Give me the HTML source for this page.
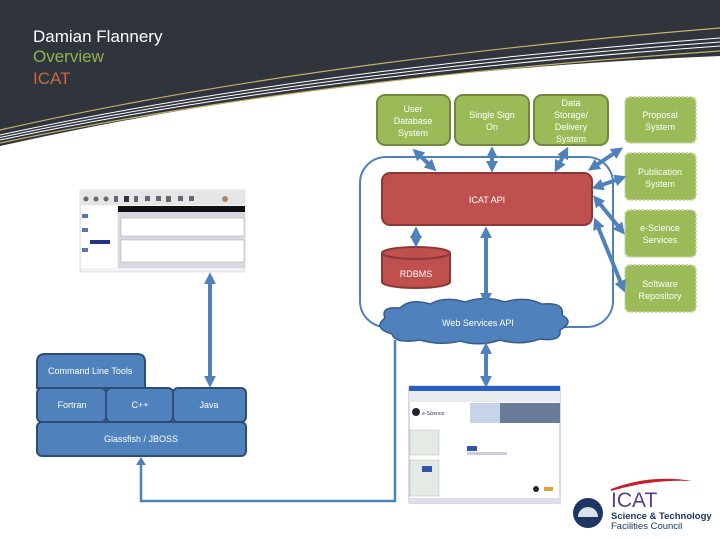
<!DOCTYPE html>
<html><head><meta charset="utf-8"><style>
html,body{margin:0;padding:0;background:#fff}
svg{display:block}
text{font-family:"Liberation Sans",sans-serif}
</style></head><body>
<svg width="720" height="540" viewBox="0 0 720 540" xmlns="http://www.w3.org/2000/svg">
<defs>
<marker id="ah" viewBox="0 0 10 10" refX="6" refY="5" markerWidth="3" markerHeight="3" orient="auto-start-reverse" markerUnits="strokeWidth">
<path d="M0,0 L10,5 L0,10 z" fill="#4f81bd"/>
</marker>
</defs>
<rect width="720" height="540" fill="#fff"/>
<!-- header -->
<path d="M0,0 H720 V56 Q330,72 0,146 Z" fill="#2f343d"/>
<path d="M0,130 Q300,62 720,28" fill="none" stroke="#c8b068" stroke-width="1.2"/>
<path d="M0,135 Q300,70 720,38" fill="none" stroke="#fff" stroke-width="1"/>
<path d="M0,137.5 Q300,73 720,42" fill="none" stroke="#fff" stroke-width="1"/>
<path d="M0,140 Q300,76 720,46" fill="none" stroke="#fff" stroke-width="1"/>
<path d="M0,143 Q300,80 720,51" fill="none" stroke="#c8b068" stroke-width="1.2"/>
<text x="33" y="42" fill="#fff" font-size="17">Damian Flannery</text>
<text x="33" y="62" fill="#8db352" font-size="17">Overview</text>
<text x="33" y="84" fill="#d06a3a" font-size="17">ICAT</text>

<!-- outline -->
<rect x="360" y="157" width="253" height="170" rx="26" fill="none" stroke="#4f81bd" stroke-width="2"/>

<!-- green boxes -->
<g fill="#9bbb59" stroke="#71893f" stroke-width="2">
<rect x="377" y="95" width="73" height="50" rx="8"/>
<rect x="455" y="95" width="74" height="50" rx="8"/>
<rect x="534" y="95" width="74" height="50" rx="8"/>
</g>
<g fill="#9bbb59" stroke="#c3d69b" stroke-width="2" stroke-dasharray="2,2">
<rect x="625" y="97" width="71" height="46" rx="5"/>
<rect x="625" y="153" width="71" height="47" rx="5"/>
<rect x="625" y="210" width="71" height="47" rx="5"/>
<rect x="625" y="265" width="71" height="47" rx="5"/>
</g>
<g fill="#fff" font-size="9" text-anchor="middle">
<text x="413" y="112">User</text><text x="413" y="124">Database</text><text x="413" y="136">System</text>
<text x="492" y="118">Single Sign</text><text x="492" y="130">On</text>
<text x="571" y="106">Data</text><text x="571" y="118">Storage/</text><text x="571" y="130">Delivery</text><text x="571" y="142">System</text>
<text x="660" y="118">Proposal</text><text x="660" y="130">System</text>
<text x="660" y="175">Publication</text><text x="660" y="187">System</text>
<text x="660" y="231">e-Science</text><text x="660" y="243">Services</text>
<text x="660" y="287">Software</text><text x="660" y="299">Repository</text>
</g>

<!-- ICAT API -->
<rect x="382" y="173" width="210" height="52" rx="8" fill="#c0504d" stroke="#8c3836" stroke-width="2"/>
<text x="487" y="203" fill="#fff" font-size="9" text-anchor="middle">ICAT API</text>
<!-- RDBMS -->
<path d="M382,253 V282 A34,6 0 0 0 450,282 V253" fill="#c0504d" stroke="#8c3836" stroke-width="2"/>
<ellipse cx="416" cy="253" rx="34" ry="6" fill="#c0504d" stroke="#8c3836" stroke-width="2"/>
<text x="416" y="277" fill="#fff" font-size="9" text-anchor="middle">RDBMS</text>

<!-- connector line -->
<polyline points="395,340 395,501 141,501 141,462" fill="none" stroke="#4f81bd" stroke-width="2.5"/>
<path d="M141,457 L136,465 L146,465 Z" fill="#4f81bd"/>

<!-- cloud -->
<path d="M385,318 Q380,306 400,308 Q410,298 430,304 Q445,296 465,302 Q485,295 505,302 Q525,296 542,304 Q565,302 562,315 Q575,322 560,330 Q562,342 540,339 Q520,346 500,340 Q480,347 460,341 Q440,346 420,340 Q395,344 392,334 Q372,328 385,318 Z" fill="#4f81bd" stroke="#385d8a" stroke-width="1.5"/>
<text x="478" y="326" fill="#fff" font-size="9" text-anchor="middle">Web Services API</text>

<!-- arrows -->
<g stroke="#4f81bd" stroke-width="4" fill="none" marker-start="url(#ah)" marker-end="url(#ah)">
<line x1="416" y1="152" x2="433" y2="168"/>
<line x1="492" y1="151" x2="492" y2="168"/>
<line x1="566" y1="151" x2="557" y2="168"/>
<line x1="619" y1="150" x2="592" y2="168"/>
<line x1="622" y1="178" x2="596" y2="187"/>
<line x1="622" y1="231" x2="596" y2="199"/>
<line x1="623" y1="288" x2="596" y2="222"/>
<line x1="416" y1="231" x2="416" y2="243"/>
<line x1="486" y1="231" x2="486" y2="300"/>
<line x1="486" y1="347" x2="486" y2="383"/>
<line x1="210" y1="277" x2="210" y2="383"/>
</g>

<!-- left screenshot -->
<g>
<rect x="80" y="190" width="165" height="82" fill="#f2f2f2" stroke="#ccc" stroke-width="0.5"/>
<rect x="80" y="191" width="165" height="14" fill="#e6e6e6"/>
<g fill="#667">
<circle cx="86" cy="199" r="2.5"/><circle cx="96" cy="199" r="2.5"/><circle cx="106" cy="199" r="2.5"/><rect x="114" y="196" width="4" height="6"/><rect x="124" y="196" width="5" height="6" fill="#334"/><rect x="134" y="196" width="4" height="6"/><rect x="145" y="196" width="5" height="5"/><rect x="156" y="196" width="5" height="5"/><rect x="166" y="196" width="5" height="6"/><rect x="178" y="196" width="5" height="5"/><rect x="189" y="196" width="5" height="5"/><circle cx="225" cy="199" r="3" fill="#a86"/></g>
<rect x="118" y="206" width="127" height="6" fill="#111"/>
<rect x="118" y="212" width="127" height="56" fill="#d8d8e4"/>
<rect x="121" y="218" width="123" height="18" fill="#fff" stroke="#aaa" stroke-width="0.5"/>
<rect x="121" y="240" width="123" height="22" fill="#fff" stroke="#aaa" stroke-width="0.5"/>
<rect x="81" y="206" width="36" height="62" fill="#fff"/>
<rect x="90" y="240" width="20" height="4" fill="#223388"/>
<rect x="82" y="214" width="6" height="4" fill="#5577aa"/>
<rect x="82" y="228" width="6" height="4" fill="#5577aa"/>
<rect x="82" y="248" width="6" height="4" fill="#5577aa"/>
</g>

<!-- bottom screenshot -->
<g>
<rect x="409" y="386" width="151" height="117" fill="#fff" stroke="#999" stroke-width="0.7"/>
<rect x="409" y="386" width="151" height="5" fill="#2a5fbf"/>
<rect x="409" y="391" width="151" height="11" fill="#e8ecf0"/>
<rect x="500" y="403" width="60" height="20" fill="#6a7a99"/>
<rect x="470" y="403" width="30" height="20" fill="#c7d4e8"/>
<circle cx="416" cy="412" r="4" fill="#223"/>
<text x="422" y="415" font-size="5" fill="#335">e-Science</text>
<rect x="410" y="430" width="29" height="25" fill="#e4ebe4" stroke="#aaa" stroke-width="0.4"/>
<rect x="410" y="460" width="29" height="36" fill="#e4ebe4" stroke="#aaa" stroke-width="0.4"/>
<rect x="467" y="446" width="10" height="5" fill="#3355aa"/>
<rect x="467" y="452" width="40" height="3" fill="#ccd"/>
<rect x="422" y="466" width="10" height="6" fill="#3355aa"/>
<circle cx="536" cy="489" r="3" fill="#223"/>
<rect x="544" y="487" width="9" height="4" fill="#e8a030"/>
<rect x="409" y="498" width="151" height="5" fill="#dde"/>
</g>

<!-- logo -->
<path d="M611,489 Q650,474 692,481 Q652,479 611,491 Z" fill="#c8202a"/>
<text x="611" y="507" font-family="Liberation Serif,serif" font-size="21" fill="#5a3e8e">ICAT</text>
<circle cx="588" cy="513" r="15" fill="#1c3664"/>
<path d="M578,517 A10,10 0 0 1 598,517 Z" fill="#fff" opacity="0.85"/>
<text x="611" y="519" font-size="9.5" font-weight="bold" fill="#1c3664">Science &amp; Technology</text>
<text x="611" y="529" font-size="9.5" fill="#1c3664">Facilities Council</text>

<!-- blue tool box -->
<g fill="#4f81bd" stroke="#2c4d75" stroke-width="2">
<path d="M37,388 V362 Q37,354 45,354 H137 Q145,354 145,362 V388 Z"/>
<rect x="37" y="388" width="69" height="34" rx="5"/>
<rect x="106" y="388" width="67" height="34" rx="5"/>
<rect x="173" y="388" width="73" height="34" rx="5"/>
<rect x="37" y="422" width="209" height="34" rx="5"/>
</g>
<g fill="#fff" font-size="9">
<text x="48" y="374">Command Line Tools</text>
<text x="72" y="408" text-anchor="middle">Fortran</text>
<text x="140" y="408" text-anchor="middle">C++</text>
<text x="209" y="408" text-anchor="middle">Java</text>
<text x="141" y="442" text-anchor="middle">Glassfish / JBOSS</text>
</g>
</svg>
</body></html>
